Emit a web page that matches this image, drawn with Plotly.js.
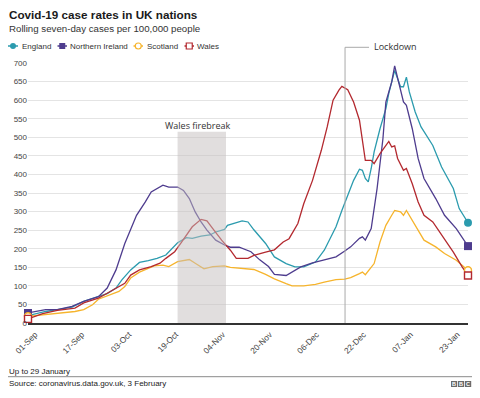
<!DOCTYPE html>
<html>
<head>
<meta charset="utf-8">
<script src="https://cdn.plot.ly/plotly-3.0.1.min.js"></script>
<style>html,body{margin:0;padding:0;background:#fff;}#chart{width:480px;height:398px;}</style>
</head>
<body>
<div id="chart"></div>
<script>
// ---------- data ----------
const seriesNames = ["England", "Northern Ireland", "Scotland", "Wales"];

const englandDates = ["2020-09-01","2020-09-07","2020-09-11","2020-09-16","2020-09-20","2020-09-25","2020-09-28","2020-10-01","2020-10-03","2020-10-06","2020-10-09","2020-10-12","2020-10-15","2020-10-18","2020-10-20","2020-10-22","2020-10-25","2020-10-27","2020-10-30","2020-11-02","2020-11-04","2020-11-07","2020-11-08","2020-11-11","2020-11-13","2020-11-15","2020-11-17","2020-11-21","2020-11-24","2020-11-28","2020-12-01","2020-12-04","2020-12-08","2020-12-11","2020-12-15","2020-12-17","2020-12-19","2020-12-21","2020-12-23","2020-12-24","2020-12-25","2020-12-26","2020-12-27","2020-12-28","2020-12-30","2021-01-01","2021-01-02","2021-01-04","2021-01-06","2021-01-07","2021-01-08","2021-01-09","2021-01-11","2021-01-13","2021-01-17","2021-01-20","2021-01-24","2021-01-26","2021-01-29"];
const englandValues = [20,31,36,43,58,71,79,94,116,143,163,168,174,183,201,216,230,228,234,237,245,252,263,270,275,272,251,214,178,160,151,151,164,196,259,303,344,384,414,411,389,380,416,461,523,577,618,680,636,636,662,622,568,528,478,420,362,308,270];

const niDates = ["2020-09-01","2020-09-07","2020-09-11","2020-09-16","2020-09-20","2020-09-25","2020-09-28","2020-10-01","2020-10-04","2020-10-08","2020-10-11","2020-10-13","2020-10-17","2020-10-19","2020-10-22","2020-10-24","2020-10-26","2020-10-28","2020-10-30","2020-11-01","2020-11-04","2020-11-07","2020-11-09","2020-11-12","2020-11-16","2020-11-19","2020-11-22","2020-11-24","2020-11-28","2020-11-30","2020-12-03","2020-12-07","2020-12-11","2020-12-15","2020-12-18","2020-12-20","2020-12-23","2020-12-24","2020-12-25","2020-12-27","2020-12-29","2020-12-31","2021-01-01","2021-01-03","2021-01-04","2021-01-06","2021-01-07","2021-01-08","2021-01-10","2021-01-12","2021-01-14","2021-01-18","2021-01-21","2021-01-25","2021-01-29"];
const niValues = [27,36,36,45,58,71,94,143,214,290,326,353,371,366,366,357,335,299,272,250,223,210,204,204,192,170,152,131,128,137,151,162,169,178,194,205,228,232,223,254,362,496,595,649,692,622,595,586,523,443,389,335,290,254,207];

const scotlandDates = ["2020-09-01","2020-09-06","2020-09-11","2020-09-17","2020-09-20","2020-09-23","2020-09-25","2020-09-28","2020-10-02","2020-10-04","2020-10-06","2020-10-09","2020-10-12","2020-10-14","2020-10-17","2020-10-19","2020-10-22","2020-10-26","2020-10-28","2020-10-31","2020-11-03","2020-11-07","2020-11-09","2020-11-13","2020-11-17","2020-11-21","2020-11-24","2020-11-28","2020-11-30","2020-12-04","2020-12-08","2020-12-11","2020-12-15","2020-12-18","2020-12-20","2020-12-23","2020-12-24","2020-12-25","2020-12-28","2020-12-30","2021-01-01","2021-01-03","2021-01-04","2021-01-06","2021-01-07","2021-01-08","2021-01-10","2021-01-12","2021-01-14","2021-01-18","2021-01-21","2021-01-25","2021-01-29"];
const scotlandValues = [18,22,27,31,36,49,64,73,85,98,121,137,147,154,156,152,165,171,161,146,152,154,150,146,144,131,119,106,100,100,104,110,117,118,122,133,137,130,160,218,263,290,303,299,290,303,276,250,223,205,187,169,142];

const walesDates = ["2020-09-01","2020-09-06","2020-09-11","2020-09-17","2020-09-20","2020-09-25","2020-09-28","2020-10-02","2020-10-04","2020-10-06","2020-10-09","2020-10-13","2020-10-16","2020-10-18","2020-10-21","2020-10-23","2020-10-25","2020-10-27","2020-10-30","2020-11-01","2020-11-03","2020-11-06","2020-11-09","2020-11-11","2020-11-15","2020-11-17","2020-11-21","2020-11-24","2020-11-27","2020-11-29","2020-12-02","2020-12-04","2020-12-07","2020-12-10","2020-12-12","2020-12-14","2020-12-16","2020-12-17","2020-12-19","2020-12-21","2020-12-23","2020-12-24","2020-12-25","2020-12-27","2020-12-28","2020-12-30","2021-01-01","2021-01-02","2021-01-03","2021-01-04","2021-01-05","2021-01-07","2021-01-08","2021-01-10","2021-01-12","2021-01-14","2021-01-17","2021-01-20","2021-01-24","2021-01-27","2021-01-29"];
const walesValues = [11,25,34,40,54,67,80,98,107,129,143,152,161,174,192,214,237,259,279,275,254,223,196,174,174,182,191,197,218,227,268,321,384,465,528,600,627,637,628,595,546,487,438,438,429,456,478,489,474,477,443,411,416,375,326,290,272,236,191,151,128];

const tickDates = ["2020-09-01","2020-09-17","2020-10-03","2020-10-19","2020-11-04","2020-11-20","2020-12-06","2020-12-22","2021-01-07","2021-01-23"];
const tickLabels = ["01-Sep","17-Sep","03-Oct","19-Oct","04-Nov","20-Nov","06-Dec","22-Dec","07-Jan","23-Jan"];

const firebreakStart = "2020-10-22 00:00";
const firebreakEnd = "2020-11-07 12:00";
const firebreakTop = 515;
const lockdownDate = "2020-12-18 02:00";

// ---------- styling ----------
const colors = ["#2b9bae", "#4e3c8e", "#f6b42c", "#b3292f"];
const endSymbols = ["circle", "square", "circle", "square"];
const hollow = [false, false, true, true];
const FONT = "Liberation Sans, Arial, Helvetica, sans-serif";
const FONT2 = "Open Sans, Liberation Sans, sans-serif";

const L = 28, R = 12, T = 63, B = 75, W = 480, H = 398;
const plotW = W - L - R, plotH = H - T - B;
const PX = px => (px - L) / plotW;
const PY = py => (H - B - py) / plotH;

const allDates = [englandDates, niDates, scotlandDates, walesDates];
const allValues = [englandValues, niValues, scotlandValues, walesValues];

const traces = [];
allDates.forEach((d, i) => {
  traces.push({
    type: "scatter", mode: "lines", x: d, y: allValues[i], name: seriesNames[i],
    line: {color: colors[i], width: 1.3}, hoverinfo: "skip", showlegend: false, cliponaxis: false
  });
});
allDates.forEach((d, i) => {
  const v = allValues[i];
  traces.push({
    type: "scatter", mode: "markers", x: [d[0], d[d.length - 1]], y: [v[0], v[v.length - 1]],
    marker: {symbol: endSymbols[i], size: hollow[i] ? 7 : 8, color: hollow[i] ? "#ffffff" : colors[i],
             line: {color: colors[i], width: hollow[i] ? 1.4 : 0}},
    hoverinfo: "skip", showlegend: false, cliponaxis: false
  });
});

const shapes = [];
const annotations = [];

// firebreak band
shapes.push({type: "rect", xref: "x", yref: "y", x0: firebreakStart, x1: firebreakEnd, y0: 0, y1: firebreakTop,
  fillcolor: "#c3bebe", opacity: 0.5, line: {width: 0}, layer: "above"});
annotations.push({xref: "paper", yref: "paper", x: PX(197.5), y: PY(125), xanchor: "center", yanchor: "middle",
  text: "Wales firebreak", showarrow: false, font: {family: FONT2, size: 9, color: "#333"}});

// lockdown marker
shapes.push({type: "line", xref: "x", yref: "paper", x0: lockdownDate, x1: lockdownDate, y0: 0, y1: PY(47.3),
  line: {color: "#a9a9a9", width: 1}, layer: "above"});
shapes.push({type: "line", xref: "x", yref: "paper", xsizemode: "pixel", xanchor: lockdownDate, x0: 0, x1: 24,
  y0: PY(47.3), y1: PY(47.3), line: {color: "#a9a9a9", width: 1}});
annotations.push({xref: "paper", yref: "paper", x: PX(372), y: PY(46), xanchor: "left", yanchor: "middle",
  text: "Lockdown", showarrow: false, font: {family: FONT2, size: 9, color: "#333"}});

// titles
annotations.push({xref: "paper", yref: "paper", x: PX(7), y: PY(14.8), xanchor: "left", yanchor: "middle",
  text: "<b>Covid-19 case rates in UK nations</b>", showarrow: false, font: {family: FONT, size: 11.7, color: "#1a1a1a"}});
annotations.push({xref: "paper", yref: "paper", x: PX(7), y: PY(28), xanchor: "left", yanchor: "middle",
  text: "Rolling seven-day cases per 100,000 people", showarrow: false, font: {family: FONT, size: 9.7, color: "#333"}});

// custom legend
const legLineX = [[8, 18], [57.5, 67], [133.5, 143], [184.5, 194]];
const legTextX = [19.5, 68, 144.5, 195];
const legY = 46;
seriesNames.forEach((n, i) => {
  const [a, b] = legLineX[i];
  const c = (a + b) / 2;
  shapes.push({type: "line", xref: "paper", yref: "paper", x0: PX(a), x1: PX(b), y0: PY(legY), y1: PY(legY),
    line: {color: colors[i], width: 1.5}});
  shapes.push({type: endSymbols[i] === "circle" ? "circle" : "rect", xref: "paper", yref: "paper",
    xsizemode: "pixel", ysizemode: "pixel", xanchor: PX(c), yanchor: PY(legY),
    x0: -3, x1: 3, y0: -3, y1: 3,
    fillcolor: hollow[i] ? "#ffffff" : colors[i], line: {color: colors[i], width: hollow[i] ? 1.2 : 0}});
  annotations.push({xref: "paper", yref: "paper", x: PX(legTextX[i]), y: PY(legY), xanchor: "left", yanchor: "middle",
    text: n, showarrow: false, font: {family: FONT, size: 8, color: "#333"}});
});

// footer
annotations.push({xref: "paper", yref: "paper", x: PX(7), y: PY(371), xanchor: "left", yanchor: "middle",
  text: "Up to 29 January", showarrow: false, font: {family: FONT, size: 8, color: "#222"}});
shapes.push({type: "line", xref: "paper", yref: "paper", x0: PX(8), x1: PX(472), y0: PY(376.7), y1: PY(376.7),
  line: {color: "#8a8a8a", width: 1}});
annotations.push({xref: "paper", yref: "paper", x: PX(7), y: PY(383.3), xanchor: "left", yanchor: "middle",
  text: "Source: coronavirus.data.gov.uk, 3 February", showarrow: false, font: {family: FONT, size: 8, color: "#222"}});
const bbc = ["B", "B", "C"];
bbc.forEach((ch, k) => {
  const x0 = 451 + k * 7;
  shapes.push({type: "rect", xref: "paper", yref: "paper", x0: PX(x0), x1: PX(x0 + 6.2), y0: PY(387), y1: PY(381),
    fillcolor: "#6a6a6a", line: {width: 0}});
  annotations.push({xref: "paper", yref: "paper", x: PX(x0 + 3.1), y: PY(384), xanchor: "center", yanchor: "middle",
    text: "<b>" + ch + "</b>", showarrow: false, borderpad: 0, font: {family: FONT, size: 5.5, color: "#ffffff"}});
});

const layout = {
  width: W, height: H,
  margin: {l: L, r: R, t: T, b: B, pad: 0},
  paper_bgcolor: "#ffffff", plot_bgcolor: "#ffffff",
  showlegend: false,
  font: {family: FONT, size: 8, color: "#444"},
  xaxis: {
    type: "date", range: ["2020-09-01", "2021-01-29"],
    tickmode: "array", tickvals: tickDates, ticktext: tickLabels, tickangle: -45,
    ticklabelshift: 7, ticklabelstandoff: 2,
    tickfont: {family: FONT, size: 8.3, color: "#444"},
    showgrid: false, zeroline: false, showline: true, linecolor: "#333", linewidth: 1.5, ticks: "", fixedrange: true
  },
  yaxis: {
    range: [0, 700], dtick: 50, tick0: 0,
    tickfont: {family: FONT, size: 8, color: "#444"},
    showgrid: true, gridcolor: "#e4e4e4", gridwidth: 1, zeroline: false, showline: false, ticks: "", fixedrange: true
  },
  shapes: shapes,
  annotations: annotations
};

Plotly.newPlot("chart", traces, layout, {staticPlot: true, displayModeBar: false});
</script>
</body>
</html>
